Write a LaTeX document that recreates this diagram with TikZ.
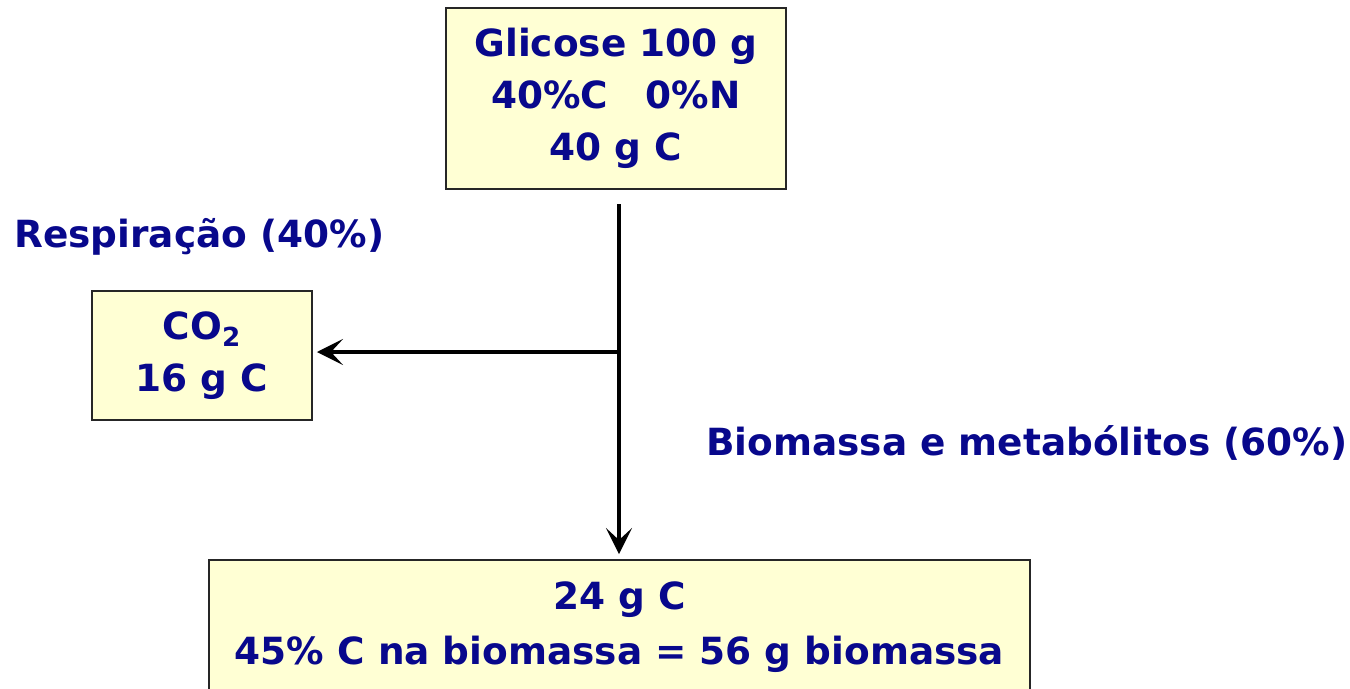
\documentclass[tikz,border=0pt]{standalone}
\usepackage{fontspec}
\setmainfont{DejaVu Sans}
\usepackage{tikz}
\usetikzlibrary{arrows.meta}
\definecolor{inkblue}{RGB}{8,8,140}
\definecolor{boxfill}{RGB}{255,255,212}
\tikzset{
  carbon-box/.style={draw=black!85, fill=boxfill, line width=1.1pt,
    align=center, text=inkblue, inner sep=0pt,
    font=\fontsize{21.3}{29.5}\selectfont\bfseries},
  carbon-label/.style={text=inkblue, inner sep=0pt, anchor=west,
    font=\fontsize{21.3}{29.5}\selectfont\bfseries},
  carbon-flow/.style={draw=black, line width=2.3pt,
    -{Stealth[length=0.52cm, width=0.52cm, inset=0.24cm]}}
}

\begin{document}
\begin{tikzpicture}
  \useasboundingbox (0,0) rectangle (27,-13.76);
  \clip (0,0) rectangle (27,-13.76);
  % boxes
  \node[carbon-box, minimum width=6.8cm, minimum height=3.62cm] (glucose) at (12.32,-1.97)
    {Glicose 100 g\\40\%C\quad 0\%N\\40 g C};
  \node[carbon-box, minimum width=4.4cm, minimum height=2.58cm] (co2) at (4.04,-7.11)
    {CO\textsubscript{2}\\16 g C};
  \node[carbon-box, minimum width=16.42cm, minimum height=2.68cm] (biomass) at (12.39,-12.54)
    {24 g C\\[2pt]45\% C na biomassa = 56 g biomassa};
  % labels
  \node[carbon-label] (resp) at (0.28,-4.74) {Respiração (40\%)};
  \node[carbon-label] (bio) at (14.12,-8.86) {Biomassa e metabólitos (60\%)};
  % flows
  \coordinate (start) at (12.38,-4.08);
  \coordinate (split) at (12.38,-7.04);
  \draw[carbon-flow, shorten >=0.1cm] (start) -- (start |- biomass.north);
  \draw[carbon-flow, shorten >=0.08cm] (split) -- (co2.east |- split);
\end{tikzpicture}
\end{document}
